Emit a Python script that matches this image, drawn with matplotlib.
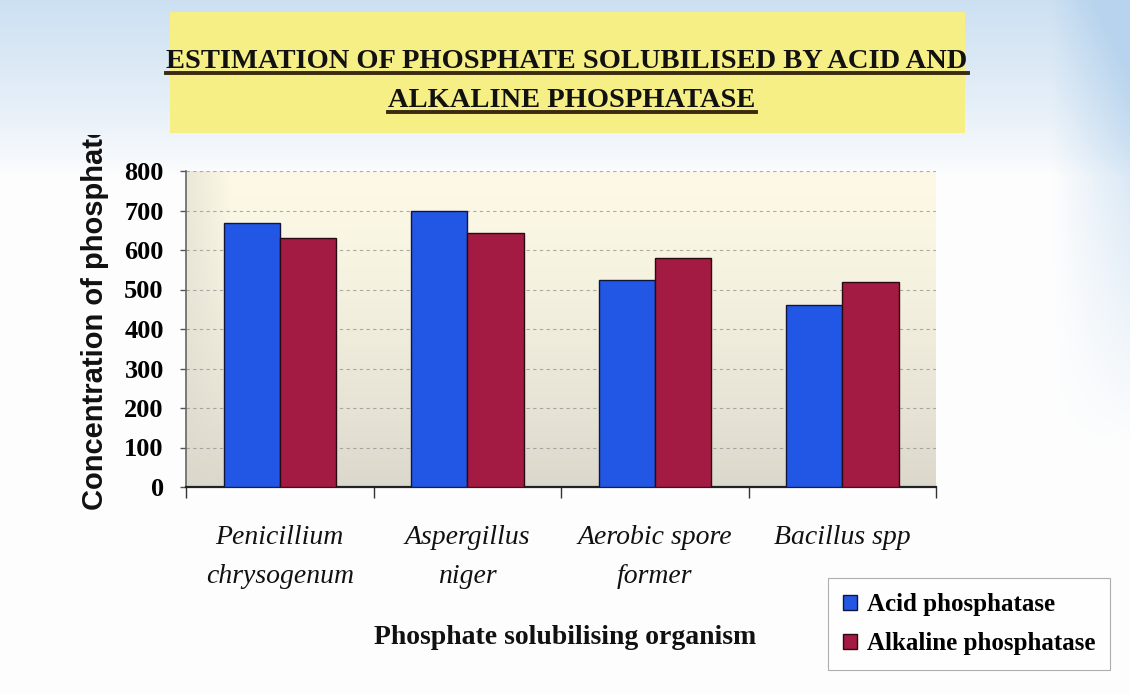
import numpy as np
import matplotlib
matplotlib.use("Agg")
import matplotlib.pyplot as plt
from matplotlib.lines import Line2D
from matplotlib.patches import Rectangle
from matplotlib.transforms import Bbox, TransformedBbox

# phosphate released (per organism)
organisms = ["Penicillium\nchrysogenum", "Aspergillus\nniger",
             "Aerobic spore\nformer", "Bacillus spp"]
acid = [668, 700, 525, 460]
alkaline = [630, 642, 580, 518]
series_names = ["Acid phosphatase", "Alkaline phosphatase"]
yticks = [0, 100, 200, 300, 400, 500, 600, 700, 800]

W, H = 1130, 695
fig = plt.figure(figsize=(W / 100, H / 100), dpi=100)
fig.patch.set_facecolor("white")

# slide background: pale blue wash along the top and the right edge
bg_ax = fig.add_axes([0, 0, 1, 1], zorder=-10)
bg_ax.axis("off")
yy, xx = np.mgrid[0:H, 0:W]
top = np.clip(1 - yy / 175.0, 0, 1) ** 0.8
right = np.clip((xx - 1050) / 80.0, 0, 1) * np.clip(1 - (yy - 150) / 300.0, 0, 1)
w = np.clip(0.7 * top + 0.55 * right, 0, 1)[..., None]
white = np.array([0.995, 0.995, 0.995])
blue = np.array([0.72, 0.83, 0.93])
bg = white * (1 - w) + blue * w
bg_ax.imshow(bg, extent=(0, 1, 0, 1), aspect="auto", interpolation="bilinear")
bg_ax.set_xlim(0, 1)
bg_ax.set_ylim(0, 1)

# yellow title banner
fig.add_artist(Rectangle((170 / W, 1 - 133 / H), 795 / W, 121 / H,
                         transform=fig.transFigure, facecolor="#f6ef86",
                         edgecolor="none", zorder=1))
title_font = dict(family="Liberation Serif", weight="bold", color="#111111")
t1 = fig.text(567 / W, 1 - 68 / H, "ESTIMATION OF PHOSPHATE SOLUBILISED BY ACID AND",
              ha="center", va="baseline", fontsize=20.5, zorder=2, **title_font)
t2 = fig.text(572 / W, 1 - 107 / H, "ALKALINE PHOSPHATASE",
              ha="center", va="baseline", fontsize=20.5, zorder=2, **title_font)

# chart
ax = fig.add_axes([186 / W, 1 - 487 / H, 750 / W, 316 / H])
x = np.arange(len(organisms))
bw = 0.30
ax.bar(x - bw / 2, acid, bw, color="#2256e4", edgecolor="#10163a",
       linewidth=1.0, zorder=3, label=series_names[0])
ax.bar(x + bw / 2, alkaline, bw, color="#a31a42", edgecolor="#2a0a12",
       linewidth=1.0, zorder=3, label=series_names[1])
ax.set_xlim(-0.5, len(organisms) - 0.5)
ax.set_ylim(0, 800)

# plot-area fill: cream at the top fading to grey-beige below
gy = np.linspace(0, 1, 200)[:, None]
gx = np.linspace(0, 1, 300)[None, :]
c_top = np.array([0.99, 0.975, 0.90])
c_bot = np.array([0.86, 0.845, 0.80])
shade = (gy ** 1.5)[..., None]
edge = (np.clip(1 - gx / 0.06, 0, 1) * 0.5)[..., None]
fill = c_top * (1 - shade) + c_bot * shade
fill = fill * (1 - edge) + c_bot * edge
ax.imshow(fill, extent=(-0.5, len(organisms) - 0.5, 0, 800), aspect="auto",
          origin="upper", zorder=0, interpolation="bilinear")

ax.set_yticks(yticks)
ax.set_yticklabels([str(v) for v in yticks], family="Liberation Serif",
                   weight="bold", fontsize=19)
ax.yaxis.grid(True, linestyle=(0, (3, 3)), color="#8c8c8c", linewidth=0.8,
              alpha=0.7, zorder=1)
ax.tick_params(axis="y", length=4, width=1, color="#555555", pad=12)

# category boundaries as major ticks, names as minor ticks at the centres
ax.set_xticks(np.arange(len(organisms) + 1) - 0.5)
ax.set_xticklabels([])
ax.tick_params(axis="x", which="major", length=8, width=1, color="#333333")
ax.set_xticks(x, organisms, minor=True)
ax.tick_params(axis="x", which="minor", length=0, pad=27)
for lbl in ax.get_xticklabels(minor=True):
    lbl.set_fontfamily("Liberation Serif")
    lbl.set_fontstyle("italic")
    lbl.set_fontsize(20)
    lbl.set_linespacing(1.75)
    lbl.set_color("#111111")

for side in ("top", "right"):
    ax.spines[side].set_visible(False)
ax.spines["left"].set_color("#666666")
ax.spines["left"].set_linewidth(1.2)
ax.spines["bottom"].set_color("#222222")
ax.spines["bottom"].set_linewidth(1.6)

# axis titles
ylab = fig.text(95 / W, 1 - 510 / H, "Concentration of phosphate",
                rotation=90, ha="center", va="bottom", family="Liberation Sans",
                weight="bold", fontsize=21, color="#111111")
ylab.set_clip_box(TransformedBbox(Bbox([[0, 0], [1, 1 - 135 / H]]), fig.transFigure))
ylab.set_clip_on(True)
fig.text(565 / W, 1 - 637 / H, "Phosphate solubilising organism", ha="center",
         va="center", family="Liberation Serif", weight="bold", fontsize=20,
         color="#111111")

leg = fig.legend(loc="upper left", bbox_to_anchor=(828 / W, 1 - 578 / H),
                 bbox_transform=fig.transFigure, frameon=True, fancybox=False,
                 prop=dict(family="Liberation Serif", size=18, weight="bold"),
                 handlelength=0.55, handleheight=0.55, handletextpad=0.4,
                 labelspacing=0.65, borderpad=0.6, borderaxespad=0)
leg.get_frame().set_edgecolor("#9a9a9a")
leg.get_frame().set_linewidth(0.8)

# underline the two banner lines
fig.canvas.draw()
renderer = fig.canvas.get_renderer()
for t in (t1, t2):
    bb = t.get_window_extent(renderer).transformed(fig.transFigure.inverted())
    yb = t.get_position()[1] - 5 / H
    fig.add_artist(Line2D([bb.x0, bb.x1], [yb, yb], transform=fig.transFigure,
                          color="#3a2a10", linewidth=2.8, zorder=2))

fig.savefig("out.png", dpi=100)
